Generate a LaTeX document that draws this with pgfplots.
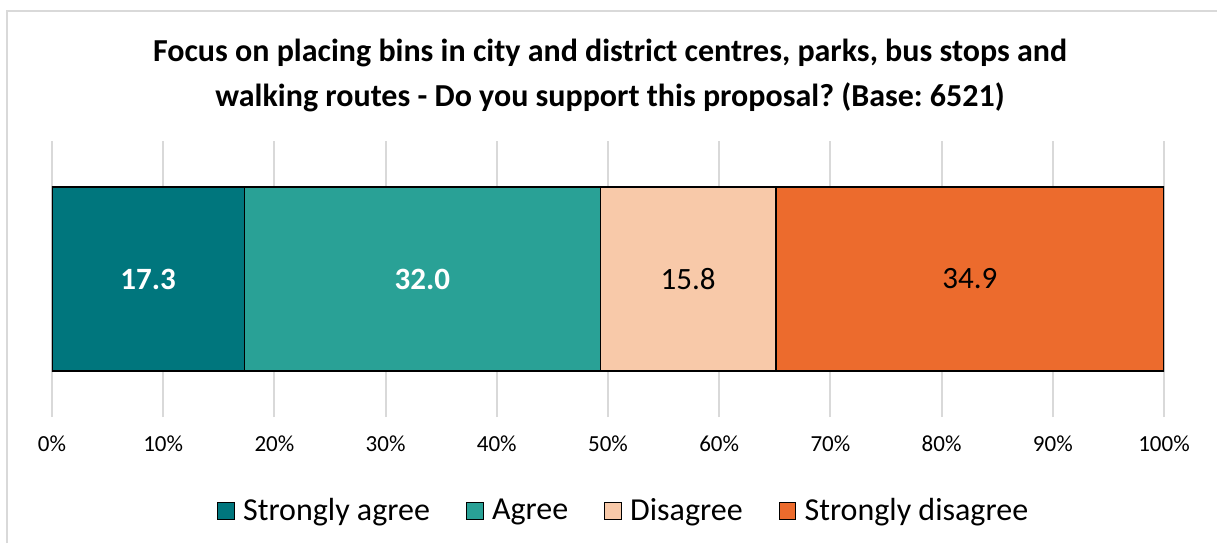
\documentclass[border=0pt]{standalone}
\usepackage{pgfplots}
\pgfplotsset{compat=1.18}
\usepackage{fontspec}
\setmainfont{Carlito}
\frenchspacing
\definecolor{c1}{RGB}{0,118,125}
\definecolor{c2}{RGB}{41,161,150}
\definecolor{c3}{RGB}{248,201,169}
\definecolor{c4}{RGB}{236,107,45}
\definecolor{gridc}{RGB}{217,217,217}
\begin{document}
\begin{tikzpicture}[x=0.5pt,y=0.5pt]
\path[use as bounding box] (0,0) rectangle (1217,543);
\draw[gridc, line width=1.2pt] (7,0) -- (7,532) -- (1217,532);
\node[font=\bfseries\fontsize{16}{22.5}\selectfont, align=center] at (610,468)
  {Focus on placing bins in city and district centres, parks, bus stops and\\walking routes - Do you support this proposal? (Base: 6521)};
\begin{axis}[
  at={(26pt,63pt)}, anchor=south west,
  scale only axis, width=556pt, height=138pt,
  xbar stacked, bar width=92pt,
  xmin=0, xmax=100, ymin=-0.75, ymax=0.75,
  axis line style={draw=none},
  major tick length=0pt,
  ytick=\empty,
  xtick={0,10,...,100},
  xmajorgrids, grid style={gridc, line width=1pt},
  xticklabel={\pgfmathprintnumber{\tick}\%},
  /pgf/number format/assume math mode=true,
  xticklabel style={font=\fontsize{11.5}{13}\selectfont, yshift=-6pt},
  legend style={at={(0.515,-0.34)}, anchor=center, draw=none, legend columns=4,
    font=\fontsize{16}{18}\selectfont,
    /tikz/every even column/.append style={column sep=16pt}},
  legend image code/.code={\draw[#1, draw=black, line width=0.4pt] (0pt,-4.2pt) rectangle (8.4pt,4.2pt); \path (10.5pt,0pt);},
  every axis plot/.append style={draw=black, line width=0.6pt},
]
\addplot[fill=c1] coordinates {(17.3,0)};
\addplot[fill=c2] coordinates {(32.0,0)};
\addplot[fill=c3] coordinates {(15.8,0)};
\addplot[fill=c4] coordinates {(34.9,0)};
\legend{Strongly agree, Agree, Disagree, Strongly disagree}
\coordinate (l1) at (axis cs:8.65,0);
\coordinate (l2) at (axis cs:33.3,0);
\coordinate (l3) at (axis cs:57.2,0);
\coordinate (l4) at (axis cs:82.55,0);
\end{axis}
\node[font=\bfseries\fontsize{15.5}{18}\selectfont, text=white] at (l1) {17.3};
\node[font=\bfseries\fontsize{15.5}{18}\selectfont, text=white] at (l2) {32.0};
\node[font=\fontsize{15.5}{18}\selectfont] at (l3) {15.8};
\node[font=\fontsize{15.5}{18}\selectfont] at (l4) {34.9};
\end{tikzpicture}
\end{document}
